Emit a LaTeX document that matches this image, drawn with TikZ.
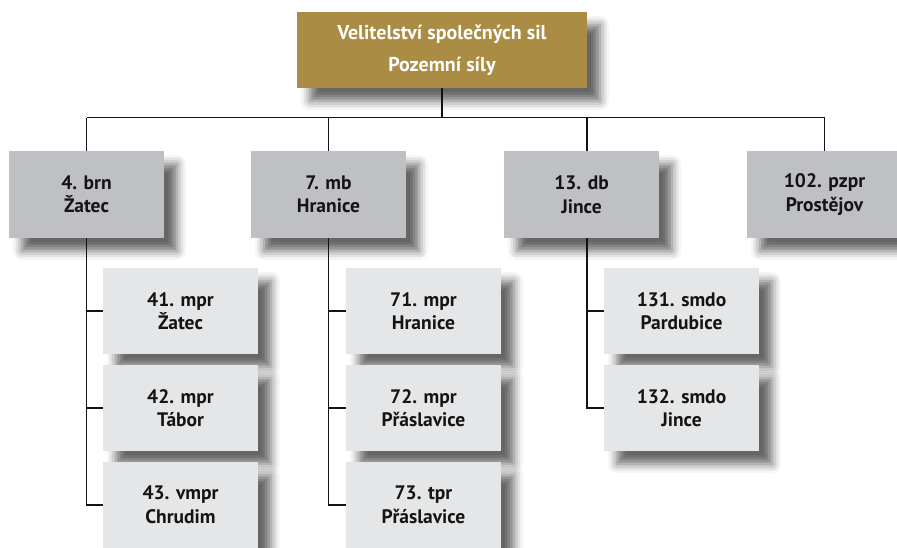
\documentclass[tikz,border=0pt]{standalone}
\usepackage{fontspec}
\setmainfont{PT Sans}
\usepackage{tikz}
\usetikzlibrary{positioning, shadows.blur}

\definecolor{gold}{HTML}{AB8C45}
\definecolor{unitgray}{HTML}{BEC0C4}
\definecolor{subgray}{HTML}{E5E6E7}
\definecolor{ink}{HTML}{141414}

\tikzset{
    box/.style = {minimum width=155pt, inner sep=0pt, align=center, text=ink,
                  font=\bfseries\fontsize{19.5}{23.5}\selectfont,
                  blur shadow={shadow xshift=13pt, shadow yshift=-13pt,
                               shadow blur radius=9pt, shadow opacity=60}},
    unit/.style = {box, fill=unitgray, minimum height=87pt},
    sub/.style  = {box, fill=subgray, minimum height=86pt},
    head/.style = {box, fill=gold, text=white, minimum width=290pt, minimum height=76pt,
                   font=\bfseries\fontsize{20}{32}\selectfont},
    link/.style = {draw=ink, line width=1.1pt}
}

\begin{document}
\begin{tikzpicture}[x=1pt, y=-1pt, node distance = 97pt]
    \useasboundingbox (0,0) rectangle (897,547);

    \node[head]   (VSS)   at (442,50)       {Velitelství společných sil\\Pozemní síly};

    \node[unit]   (BRN)   at (86.5,194.5)   {4. brn\\Žatec};
    \node[unit]   (MB)    at (328.5,194.5)  {7. mb\\Hranice};
    \node[unit]   (DB)    at (581.5,194.5)  {13. db\\Jince};
    \node[unit]   (PZPR)  at (824.5,194.5)  {102. pzpr\\Prostějov};

    \node[sub]    (M41)   at (180.5,311)    {41. mpr\\Žatec};
    \node[sub]    (M42)   [below of=M41]    {42. mpr\\Tábor};
    \node[sub]    (M43)   [below of=M42]    {43. vmpr\\Chrudim};

    \node[sub]    (M71)   at (423.5,311)    {71. mpr\\Hranice};
    \node[sub]    (M72)   [below of=M71]    {72. mpr\\Přáslavice};
    \node[sub]    (M73)   [below of=M72]    {73. tpr\\Přáslavice};

    \node[sub]    (S131)  at (681.5,311)    {131. smdo\\Pardubice};
    \node[sub]    (S132)  [below of=S131]   {132. smdo\\Jince};

    % headquarters to brigades
    \path (VSS.south) ++(0,29.5) coordinate (bus);
    \coordinate (dbtop) at ([xshift=5.5pt]DB.north);
    \draw[link] (VSS.south) -- (bus);
    \draw[link] (BRN.north |- bus) -- (PZPR.north |- bus);
    \foreach \u in {BRN, MB, PZPR}
        \draw[link] (\u.north |- bus) -- (\u.north);
    \draw[link] (dbtop |- bus) -- (dbtop);

    % brigades to battalions
    \draw[link] (BRN.south) -- (BRN.south |- M43.west) -- (M43.west);
    \foreach \m in {M41, M42}
        \draw[link] (BRN.south |- \m.west) -- (\m.west);
    \draw[link] (MB.south) -- (MB.south |- M73.west) -- (M73.west);
    \foreach \m in {M71, M72}
        \draw[link] (MB.south |- \m.west) -- (\m.west);
    \draw[link] (dbtop |- DB.south) -- (dbtop |- S132.west) -- (S132.west);
    \draw[link] (dbtop |- S131.west) -- (S131.west);
\end{tikzpicture}
\end{document}
